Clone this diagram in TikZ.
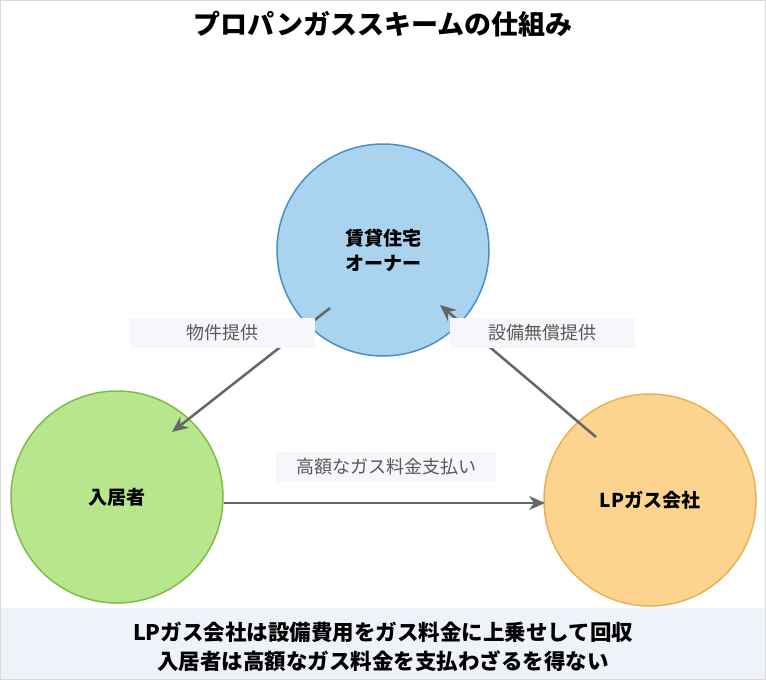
\documentclass[tikz,border=0pt]{standalone}
\usepackage{fontspec}
\setmainfont{Noto Sans CJK JP}
\usetikzlibrary{arrows.meta}
\definecolor{ownfill}{HTML}{A9D3EE}\definecolor{owndraw}{HTML}{4A8FC4}
\definecolor{resfill}{HTML}{B7E68C}\definecolor{resdraw}{HTML}{7CBD4A}
\definecolor{lpfill}{HTML}{FDD48F}\definecolor{lpdraw}{HTML}{EAB154}
\definecolor{lblfill}{HTML}{F5F7FA}\definecolor{band}{HTML}{EFF3F9}
\definecolor{arr}{HTML}{666666}
\begin{document}
\begin{tikzpicture}[x=1pt,y=-1pt,
  party/.style={circle,minimum size=212pt,line width=1.5pt,font=\fontsize{19}{25}\selectfont\bfseries,align=center},
  lbl/.style={fill=lblfill,text=black!65,font=\fontsize{18}{20}\selectfont,inner xsep=10pt,minimum height=30pt},
  conn/.style={draw=arr,line width=2.5pt,-{Stealth[length=16pt,width=14pt]}}]
\useasboundingbox (0,0) rectangle (766,680);
\fill[white] (0,0) rectangle (766,680);
\draw[black!15] (0.5,0.5) rectangle (765.5,679.5);
\node (title) at (383,24) {\fontsize{27}{30}\selectfont\bfseries プロパンガススキームの仕組み};
\node[party,fill=ownfill,draw=owndraw] (own) at (383,250) {賃貸住宅\\オーナー};
\node[party,fill=resfill,draw=resdraw] (res) at (117,497) {入居者};
\node[party,fill=lpfill,draw=lpdraw] (lp) at (650,500) {LPガス会社};
\coordinate (a1) at (330,308); \coordinate (a2) at (172,432);
\coordinate (b1) at (596,437); \coordinate (b2) at (440,305);
\coordinate (c1) at (224,503); \coordinate (c2) at (545,503);
\draw[conn] (a1) -- (a2);
\draw[conn] (b1) -- (b2);
\draw[conn] (c1) -- (c2);
\node[lbl,minimum width=185pt] (l1) at (222,333) {物件提供};
\node[lbl,minimum width=185pt] (l2) at (542,333) {設備無償提供};
\node[lbl,minimum width=220pt] (l3) at (386,467) {高額なガス料金支払い};
\fill[band] (1,608) rectangle (765,679);
\node[font=\fontsize{21.5}{24}\selectfont\bfseries] (n1) at (383,632) {LPガス会社は設備費用をガス料金に上乗せして回収};
\node[font=\fontsize{21.5}{24}\selectfont\bfseries] (n2) at (383,661) {入居者は高額なガス料金を支払わざるを得ない};
\end{tikzpicture}
\end{document}
